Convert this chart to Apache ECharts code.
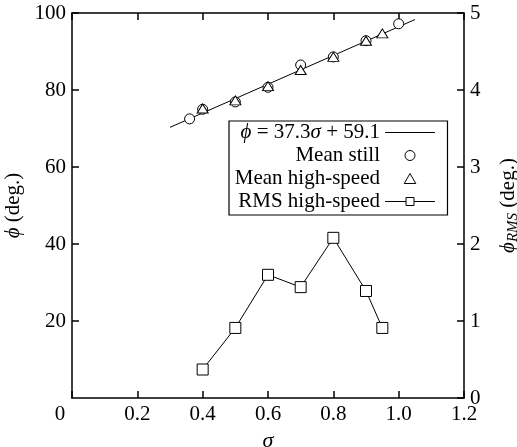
<!DOCTYPE html>
<html><head><meta charset="utf-8">
<script src="https://cdn.jsdelivr.net/npm/echarts@6/dist/echarts.min.js"></script>
<style>html,body{margin:0;padding:0;background:#fff}#c{width:517px;height:447px}</style>
</head><body><div id="c"></div>
<script>
// Data
var fitLine = [[0.3, 70.3], [1.05, 98.3]];
var stillSigma = [0.36, 0.4, 0.5, 0.6, 0.7, 0.8, 0.9, 1.0];
var stillPhi = [72.5, 75.0, 76.9, 80.7, 86.5, 88.6, 92.8, 97.2];
var hsSigma = [0.4, 0.5, 0.6, 0.7, 0.8, 0.9, 0.95];
var hsPhi = [75.2, 77.3, 81.0, 85.2, 88.6, 92.8, 94.7];
var rmsSigma = [0.4, 0.5, 0.6, 0.7, 0.8, 0.9, 0.95];
var rmsPhi = [0.37, 0.91, 1.6, 1.44, 2.08, 1.39, 0.91];
var seriesNames = ['fit', 'Mean still', 'Mean high-speed', 'RMS high-speed'];

function zip(a, b) { return a.map(function (v, i) { return [v, b[i]]; }); }

var FONT = '"Liberation Serif", "DejaVu Serif", serif';
var chart = echarts.init(document.getElementById('c'), null, {renderer: 'canvas'});
function axisLine() { return {show: true, onZero: false, lineStyle: {color: '#000', width: 1.5}}; }
function tick() { return {show: true, inside: true, length: 7, lineStyle: {color: '#000', width: 1.5}}; }
function lbl(extra) { return Object.assign({color: '#000', fontFamily: FONT, fontSize: 21, margin: 6}, extra || {}); }

chart.setOption({
  animation: false,
  backgroundColor: '#fff',
  grid: {left: 72, right: 53, top: 13, bottom: 49, containLabel: false, outerBoundsMode: 'none'},
  xAxis: [{
    type: 'value', min: 0, max: 1.2, interval: 0.2, position: 'bottom',
    axisLine: axisLine(), axisTick: tick(), splitLine: {show: false},
    axisLabel: lbl({
      formatter: function (v) { return v === 0 ? '{z|0}' : v.toFixed(1); },
      rich: {z: {fontFamily: FONT, fontSize: 21, color: '#000', padding: [0, 24, 0, 0]}}}),
    name: 'σ', nameLocation: 'middle', nameGap: 21,
    nameTextStyle: {fontFamily: FONT, fontSize: 22, fontStyle: 'italic', color: '#000'}
  }, {
    type: 'value', min: 0, max: 1.2, interval: 0.2, position: 'top',
    axisLine: axisLine(), axisTick: tick(), axisLabel: {show: false}, splitLine: {show: false}
  }],
  yAxis: [{
    type: 'value', min: 0, max: 100, interval: 20, position: 'left',
    axisLine: axisLine(), axisTick: tick(), splitLine: {show: false},
    axisLabel: lbl({showMinLabel: false}),
    name: '{i|ϕ} (deg.)', nameLocation: 'middle', nameGap: 48, nameRotate: 90,
    nameTextStyle: {fontFamily: FONT, fontSize: 21, color: '#000',
      rich: {i: {fontFamily: FONT, fontSize: 21, fontStyle: 'italic', color: '#000'}}}
  }, {
    type: 'value', min: 0, max: 5, interval: 1, position: 'right',
    axisLine: axisLine(), axisTick: tick(), splitLine: {show: false},
    axisLabel: lbl(),
    name: '{i|ϕ}{s|RMS} (deg.)', nameLocation: 'middle', nameGap: 32, nameRotate: 90,
    nameTextStyle: {fontFamily: FONT, fontSize: 21, color: '#000',
      rich: {
        i: {fontFamily: FONT, fontSize: 21, fontStyle: 'italic', color: '#000'},
        s: {fontFamily: FONT, fontSize: 15, fontStyle: 'italic', color: '#000', padding: [10, 0, 0, 0]}
      }}
  }],
  legend: {
    orient: 'vertical', left: 229, top: 121, align: 'right',
    backgroundColor: '#fff', borderColor: '#000', borderWidth: 1.2, borderRadius: 0,
    padding: [1, 12, 3, 3], itemGap: 2, itemWidth: 50, itemHeight: 10,
    symbolKeepAspect: true,
    data: [
      {name: seriesNames[0], icon: 'path://M0,0L50,0L50,1L0,1Z', itemStyle: {color: '#000', borderWidth: 0}},
      {name: seriesNames[1], icon: 'circle', itemStyle: {color: '#fff', borderColor: '#000', borderWidth: 1}},
      {name: seriesNames[2], icon: 'path://M0,-1L0.866,0.5L-0.866,0.5Z', itemStyle: {color: '#fff', borderColor: '#000', borderWidth: 1}},
      {name: seriesNames[3], lineStyle: {width: 1, color: '#000'}, itemStyle: {color: '#fff', borderColor: '#000', borderWidth: 1}}
    ],
    formatter: function (n) { return n === 'fit' ? '{i|ϕ} = 37.3{i|σ} + 59.1' : n; },
    textStyle: {fontFamily: FONT, fontSize: 21, color: '#000', width: 148, align: 'right', lineHeight: 21,
      rich: {i: {fontFamily: FONT, fontSize: 21, fontStyle: 'italic', color: '#000'}}}
  },
  series: [{
    name: 'fit', type: 'line', data: fitLine, symbol: 'none', showSymbol: false,
    lineStyle: {color: '#000', width: 1}, itemStyle: {color: '#000'}, z: 1
  }, {
    name: 'Mean still', type: 'scatter', data: zip(stillSigma, stillPhi),
    symbol: 'circle', symbolSize: 10,
    itemStyle: {color: '#fff', borderColor: '#000', borderWidth: 1, opacity: 1}, z: 2
  }, {
    name: 'Mean high-speed', type: 'scatter', data: zip(hsSigma, hsPhi),
    symbol: 'triangle', symbolSize: [11, 9],
    itemStyle: {color: '#fff', borderColor: '#000', borderWidth: 1, opacity: 1}, z: 3
  }, {
    name: 'RMS high-speed', type: 'line', yAxisIndex: 1, data: zip(rmsSigma, rmsPhi),
    symbol: 'rect', symbolSize: 11, showSymbol: true,
    lineStyle: {color: '#000', width: 1},
    itemStyle: {color: '#fff', borderColor: '#000', borderWidth: 1}, z: 2
  }]
});
</script>
</body></html>
